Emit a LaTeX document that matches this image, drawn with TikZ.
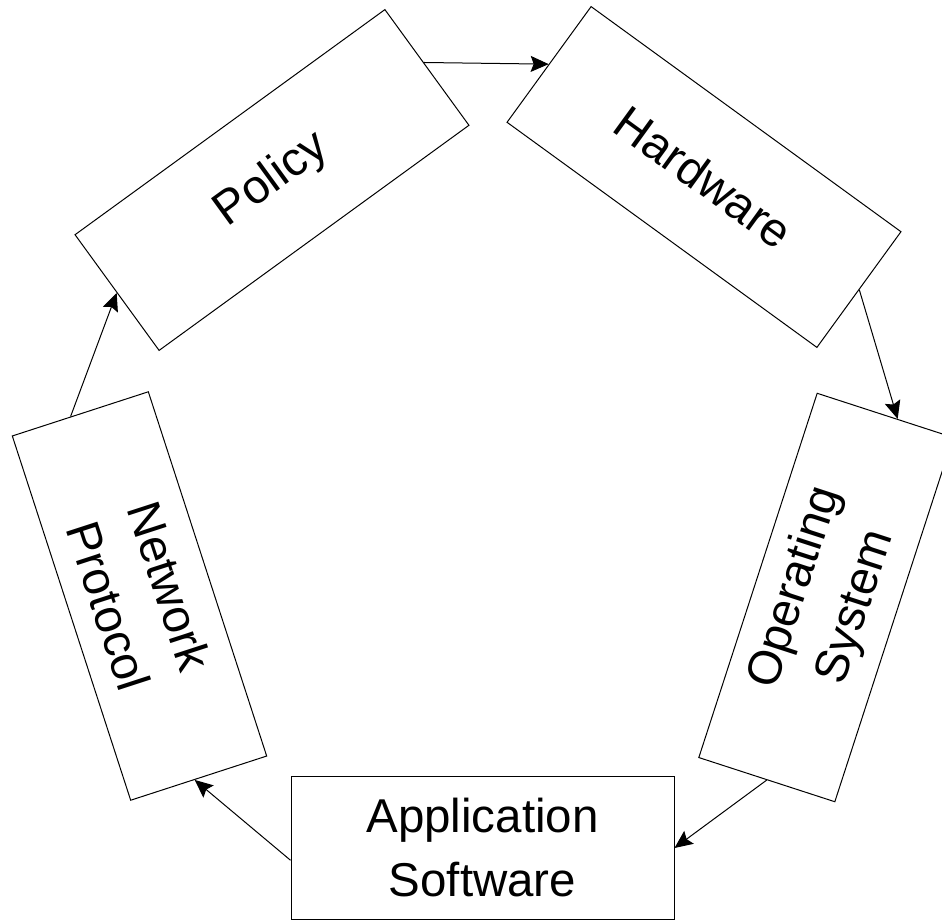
\documentclass[tikz,border=0pt]{standalone}
\usepackage{fontspec}
\setmainfont{Liberation Sans}
\usetikzlibrary{arrows.meta,calc}
\begin{document}
\begin{tikzpicture}[x=1pt,y=-1pt,
  stage/.style={draw=black, line width=1pt, fill=white,
    minimum width=383pt, minimum height=143pt, inner sep=0pt,
    align=center, font=\fontsize{47.5}{64}\selectfont},
  flow/.style={draw=black, line width=1pt,
    -{Stealth[length=18pt,width=16pt,inset=3pt]}}]
\useasboundingbox (0,0) rectangle (942,921);

% the five stages, placed round a pentagon
\node[stage, rotate=36]  (policy)   at (272,180)   {Policy};
\node[stage, rotate=-36] (hardware) at (704,177)   {Hardware};
\node[stage, rotate=72]  (os)       at (826,597.5) {Operating\\System};
\node[stage]             (app)      at (482.5,848) {Application\\Software};
\node[stage, rotate=-72] (network)  at (139.5,596) {Network\\Protocol};

% ports that sit off the middle of a side
\coordinate (policy-out)  at ($(policy.north east)!0.46!(policy.south east)$);
\coordinate (os-in)       at ($(os.north east)!0.59!(os.south east)$);
\coordinate (app-out)     at ($(app.north west)!0.585!(app.south west)$);
\coordinate (network-in)  at ($(network.north east)!0.53!(network.south east)$);
\coordinate (network-out) at ($(network.north west)!0.57!(network.south west)$);

% the cycle
\draw[flow] (policy-out)  -- (hardware.west);
\draw[flow] (hardware.east) -- (os-in);
\draw[flow] (os.west)     -- (app.east);
\draw[flow] (app-out)     -- (network-in);
\draw[flow] (network-out) -- (policy.west);
\end{tikzpicture}
\end{document}
